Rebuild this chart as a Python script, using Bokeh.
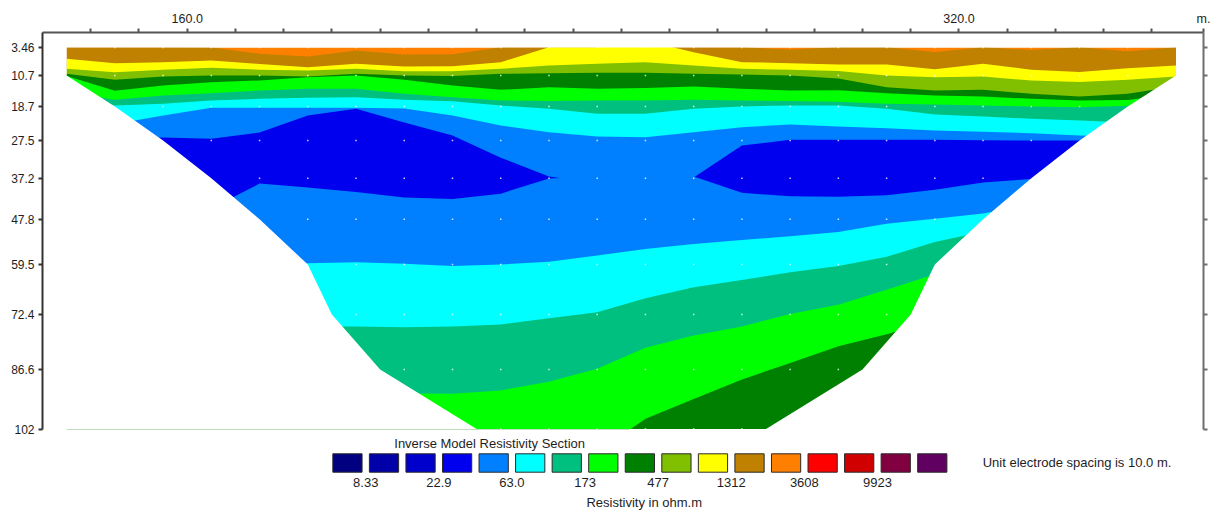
from bokeh.plotting import figure
from bokeh.models import Range1d, LinearAxis, FixedTicker
from bokeh.layouts import column
from bokeh.embed import file_html
from bokeh.resources import INLINE
from bokeh.core.properties import value

FONT = "Liberation Sans"
TXT = "#1e1e1e"

# ---------------- data ----------------
# model block centres (m) along the line
X = [135, 145, 155, 165, 175, 185, 195, 205, 215, 225, 235, 245,
     255, 265, 275, 285, 295, 305, 315, 325, 335, 345, 355, 365]

# layer depths (m) and lateral extent of the section at each depth
DEPTHS = [3.46, 10.7, 18.7, 27.5, 37.2, 47.8, 59.5, 72.4, 86.6, 102.0]
DEPTH_LABELS = ["3.46", "10.7", "18.7", "27.5", "37.2", "47.8", "59.5", "72.4", "86.6", "102"]
EDGE_LEFT = [135, 135, 145, 155, 165, 175, 185, 190, 200, 220]
EDGE_RIGHT = [365, 365, 355, 345, 335, 325, 315, 310, 300, 280]

X_TICKS = [140, 150, 160, 170, 180, 190, 200, 210, 220, 230, 240, 250, 260,
           270, 280, 290, 300, 310, 320, 330, 340, 350, 360, 370.7]
X_TICK_LABELS = {160: "160.0", 320: "320.0", 370.7: "m."}

# resistivity colour scale (ohm.m)
RES_COLORS = ["#000080", "#0000A8", "#0000CC", "#0000EE", "#0080FF", "#00FFFF",
              "#00C080", "#00FF00", "#008000", "#80C000", "#FFFF00", "#C08000",
              "#FF8000", "#FF0000", "#D00000", "#800040", "#600060"]
LEVEL_LABELS = ["8.33", "22.9", "63.0", "173", "477", "1312", "3608", "9923"]

# depth (m) of contour boundaries, read at each X, from the surface downward
ORANGE_BASE = [3.4, 3.4, 3.4, 3.46, 5.1, 5.8, 4.23, 5.27, 5.2, 3.4, 3.4, 3.4,
               3.4, 3.4, 3.4, 4.0, 3.4, 3.4, 4.6, 3.4, 4.1, 3.4, 4.4, 3.4]
BROWN_BASE = [6.39, 7.51, 7.3, 6.8, 7.7, 8.54, 7.68, 8.37, 8.3, 7.25, 3.4, 3.4,
              1.7, 4.67, 7.25, 7.5, 7.85, 7.85, 9.1, 7.68, 9.2, 9.8, 8.8, 8.1]
YELLOW_BASE = [8.97, 9.83, 9.2, 8.7, 9.2, 9.4, 8.97, 9.57, 9.6, 8.97, 8.1, 7.68,
               7.25, 8.1, 8.97, 9.2, 9.55, 10.69, 11.12, 10.95, 11.98, 12.4, 11.8, 10.95]
YG_BASE = [10.26, 11.81, 10.95, 10.69, 10.69, 10.95, 10.26, 10.69, 10.8, 10.26, 10.1, 10.0,
           10.0, 10.26, 10.43, 10.69, 11.5, 13.7, 14.57, 14.4, 15.43, 16.1, 15.43, 13.5]
DKGREEN_BASE = [10.8, 14.65, 13.27, 12.41, 11.98, 11.12, 10.7, 11.81, 13.27, 14.4, 13.7, 14.14,
                13.9, 13.53, 14.14, 14.57, 14.5, 15.25, 15.86, 16.1, 16.72, 17.15, 17.0, 15.5]
GREEN_BASE = [15.0, 16.98, 15.86, 15.25, 14.57, 14.14, 14.14, 15.43, 16.29, 17.15, 17.3, 17.15,
              17.15, 16.98, 17.15, 17.3, 17.45, 18.0, 18.18, 18.44, 18.7, 18.87, 18.5, 17.0]
TEAL_BASE = [15.6, 18.44, 18.0, 17.15, 16.72, 16.46, 16.29, 16.98, 17.32, 18.44, 19.3, 20.59,
             20.59, 19.3, 18.7, 18.44, 18.44, 19.3, 20.76, 21.28, 21.88, 22.31, 22.8, 23.0]
CYAN_BASE = [20.0, 23.2, 21.0, 19.0, 19.0, 19.0, 19.0, 19.2, 21.02, 23.6, 25.33, 26.45,
             26.62, 25.33, 24.03, 23.35, 23.86, 24.3, 24.9, 25.24, 25.6, 26.19, 26.5, 27.0]
AZURE_BASE = [27.0, 27.0, 26.7, 27.0, 25.4, 21.0, 19.3, 22.8, 26.2, 31.9, 36.8, 38.5,
              38.5, 37.0, 28.8, 27.3, 27.3, 27.3, 27.3, 27.4, 27.5, 27.5, 27.5, 27.5]
LENS_BASE = [40.0, 40.0, 40.0, 45.0, 38.6, 39.6, 40.8, 42.2, 42.6, 41.2, 37.3, 36.8,
             36.8, 36.8, 41.0, 41.9, 42.0, 41.6, 40.2, 38.3, 37.4, 36.0, 36.0, 36.0]
AZURE2_BASE = [60.0, 60.0, 60.0, 60.0, 59.5, 59.2, 58.9, 59.3, 59.9, 59.5, 58.8, 57.2,
               55.5, 54.2, 53.2, 52.2, 51.1, 49.0, 47.7, 46.3, 44.0, 42.0, 42.0, 42.0]
CYAN2_BASE = [76.0, 76.0, 76.0, 76.0, 76.0, 75.5, 75.5, 75.7, 75.5, 75.0, 73.4, 71.8,
              68.2, 65.4, 63.5, 61.5, 59.9, 57.5, 53.7, 51.0, 48.0, 45.0, 45.0, 45.0]
TEAL2_BASE = [93.0, 93.0, 93.0, 93.0, 93.0, 93.0, 93.0, 92.8, 92.9, 92.0, 89.8, 86.4,
              81.0, 77.8, 75.5, 72.3, 69.9, 66.0, 62.0, 60.0, 58.0, 56.0, 56.0, 56.0]
GREEN2_BASE = [110.0, 110.0, 110.0, 110.0, 110.0, 110.0, 110.0, 110.0, 110.0, 110.0, 110.0, 108.0,
               99.3, 94.2, 89.2, 84.9, 80.6, 77.5, 74.0, 70.0, 66.0, 60.0, 60.0, 60.0]

SURFACE = [DEPTHS[0]] * len(X)
BOTTOM = [DEPTHS[-1]] * len(X)

# (colour index, top of band) from the surface down
BANDS = [
    (12, SURFACE), (11, ORANGE_BASE), (10, BROWN_BASE), (9, YELLOW_BASE),
    (8, YG_BASE), (7, DKGREEN_BASE), (6, GREEN_BASE), (5, TEAL_BASE),
    (4, CYAN_BASE), (3, AZURE_BASE), (4, LENS_BASE), (5, AZURE2_BASE),
    (6, CYAN2_BASE), (7, TEAL2_BASE), (8, GREEN2_BASE),
]

# ---------------- main section ----------------
p = figure(width=1211, height=437, x_range=Range1d(130, 370.7),
           y_range=Range1d(102.1, -0.41), x_axis_location="above",
           output_backend="svg", toolbar_location=None,
           min_border_left=42, min_border_right=8, min_border_top=32,
           min_border_bottom=8)
p.outline_line_color = None
p.grid.visible = False
p.background_fill_color = "white"
p.border_fill_color = "white"

for ci, top in BANDS:
    p.varea(x=X, y1=top, y2=BOTTOM, fill_color=RES_COLORS[ci])

# white mask outside the data trapezoid
outline_x = EDGE_LEFT + EDGE_RIGHT[::-1]
outline_y = DEPTHS + DEPTHS[::-1]
p.multi_polygons(xs=[[[[100, 400, 400, 100], outline_x]]],
                 ys=[[[[-20, -20, 130, 130], outline_y]]],
                 fill_color="white", line_color=None)

# model block centre dots
dot_x, dot_y = [], []
for d, l, r in zip(DEPTHS, EDGE_LEFT, EDGE_RIGHT):
    for x in X:
        if l < x < r:
            dot_x.append(x)
            dot_y.append(d)
p.scatter(dot_x, dot_y, marker="square", size=1.5, fill_color="white",
          line_color=None, fill_alpha=0.8)

# axes
def style_axis(ax, color, width):
    ax.axis_line_color = color
    ax.axis_line_width = width
    ax.major_tick_line_color = color
    ax.major_tick_line_width = 2
    ax.major_tick_in = 0
    ax.major_tick_out = 4
    ax.minor_tick_line_color = None
    ax.major_label_text_font = FONT
    ax.major_label_text_color = TXT

xa = p.xaxis[0]
xa.ticker = FixedTicker(ticks=X_TICKS)
xa.major_label_overrides = {t: X_TICK_LABELS.get(t, "") for t in X_TICKS}
style_axis(xa, "#555555", 2)
xa.major_label_text_font_size = "12.5px"
xa.major_label_standoff = 3

ya = p.yaxis[0]
ya.ticker = FixedTicker(ticks=DEPTHS)
ya.major_label_overrides = dict(zip(DEPTHS, DEPTH_LABELS))
style_axis(ya, "#333333", 2)
ya.major_label_text_font_size = "12px"
ya.major_label_standoff = 4

ra = LinearAxis(ticker=FixedTicker(ticks=DEPTHS))
ra.major_label_overrides = {d: "" for d in DEPTHS}
style_axis(ra, "#6e6e6e", 2)
ra.major_label_text_font_size = "1px"
ra.major_label_standoff = 0
p.add_layout(ra, "right")

# ---------------- colour scale legend ----------------
leg = figure(width=1211, height=73, x_range=Range1d(-8.343, 23.42),
             y_range=Range1d(73, 0), output_backend="svg", toolbar_location=None,
             x_axis_type=None, y_axis_type=None,
             min_border_left=42, min_border_right=8, min_border_top=0,
             min_border_bottom=0)
leg.outline_line_color = None
leg.grid.visible = False

idx = list(range(len(RES_COLORS)))
leg.rect(x=idx, y=[25.5] * len(idx), width=0.8, height=18.4,
         fill_color=RES_COLORS, line_color="#2a2a2a", line_width=1)

lab_x = [2 * k + 0.5 for k in range(len(LEVEL_LABELS))]
common = dict(text_font=value(FONT), text_font_size="13px", text_color=TXT,
              text_align="center", text_baseline="middle")
leg.text(x=lab_x, y=[45.3] * len(lab_x), text=LEVEL_LABELS, **common)
leg.text(x=[3.89], y=[5.9], text=["Inverse Model Resistivity Section"], **common)
leg.text(x=[8.12], y=[64.7], text=["Resistivity in ohm.m"], **common)
leg.text(x=[19.96], y=[24.7], text=["Unit electrode spacing is 10.0 m."], **common)

layout = column(p, leg)
open("out.html", "w").write(file_html(layout, INLINE))
